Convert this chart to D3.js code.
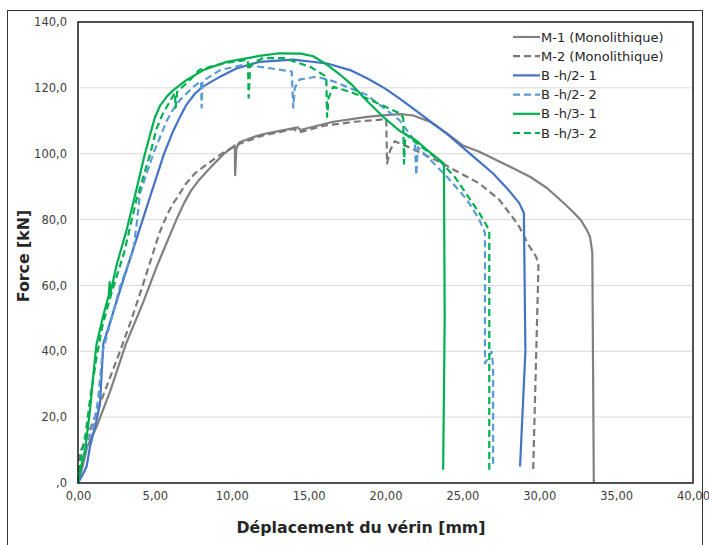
<!DOCTYPE html>
<html><head><meta charset="utf-8">
<script src="https://cdn.jsdelivr.net/npm/d3@7"></script>
<style>
html,body{margin:0;padding:0;background:#fff;}
svg{display:block;}
</style></head>
<body>
<svg id="chart" width="709" height="545"></svg>
<script>
// ---------- data (x = Déplacement [mm], y = Force [kN]) ----------
const seriesNames = ["M-1 (Monolithique)","M-2 (Monolithique)","B -h/2- 1","B -h/2- 2","B -h/3- 1","B -h/3- 2"];
const xTicks = [0,5,10,15,20,25,30,35,40];
const yTicks = [0,20,40,60,80,100,120,140];

const m1 = [[0,0],[0.3,5],[0.6,11],[1.2,17],[2.1,28],[3.1,42],[4.25,55],[5.1,65.5],[6.4,80],[6.9,85],[7.35,88.8],[7.9,92.2],[8.65,96],[9.5,100],[10.2,102.5],[10.22,93.5],[10.3,101.5],[10.5,103.5],[11.7,105.5],[12.3,106.2],[14.3,108],[14.45,107.2],[16.6,109.7],[18.8,111.2],[20.0,111.7],[21.0,112],[21.8,111.6],[22.9,109.7],[24,106.2],[25,102.6],[26.1,100.6],[27.2,98.1],[28.3,95.6],[29.4,93],[30.5,89.6],[31.5,85.4],[32.2,82.3],[32.7,79.9],[33.1,76.8],[33.3,74.8],[33.45,70],[33.55,0]];
const m2 = [[0,0],[0.1,9],[0.5,13],[1.1,20],[2.08,32],[2.73,40],[3.4,48.6],[4.25,60.6],[5.3,76],[5.8,81.5],[6.2,85],[6.5,87],[7.0,90.8],[7.6,94],[8.5,97.2],[9.5,100.5],[10.5,103],[12,105.5],[14,107.5],[14.4,106.5],[16,108.5],[18,109.7],[19.5,110.3],[20.05,110.5],[20.1,97],[20.3,101],[20.6,103.8],[21.5,102],[23.3,98],[24.5,95],[26.1,91],[27.4,86],[28.3,80.5],[28.7,77.8],[29.3,72.3],[29.8,68.7],[29.95,66],[29.6,3]];
const bh21 = [[0,0],[0.3,2.5],[0.56,5],[0.78,11],[1.2,19],[1.43,24],[1.65,42.4],[2.0,47.5],[2.9,61],[3.9,75.5],[4.9,90],[5.6,100],[6.2,107],[6.7,111.8],[7.07,115],[7.6,118.2],[8.1,120.3],[9.24,123.4],[10.3,125.9],[11.8,127.9],[14,128.6],[16.2,127.4],[17.7,125.4],[18.8,122.9],[19.9,120],[20.9,116.8],[22,113],[23,109.5],[24,106],[25,102],[26,98],[27,94],[28,89],[28.7,85],[29.0,82],[29.1,40],[28.75,5]];
const bh22 = [[0,0],[0.2,5],[0.67,13],[1.0,17],[1.3,25],[1.6,40],[2.3,52],[2.73,59.6],[3.6,70.8],[3.85,80],[4.03,88],[4.9,100],[5.77,110],[6.2,113.5],[6.63,116.3],[7.5,120.3],[8.0,122],[8.04,114],[8.1,122],[9.24,125.4],[10.75,127],[11.8,126.4],[13.9,125],[14.0,114],[14.1,120],[14.4,122.5],[15.5,123.4],[16.6,122],[18.8,117.8],[20.9,110.2],[21.9,104],[22.0,93.5],[22.1,102],[24,93],[25.3,86],[26.1,80],[26.47,76],[26.47,36.3],[26.9,39.9],[27.0,35.3],[27.0,5]];
const bh31 = [[0,0],[0.2,5],[0.46,10],[0.78,22],[1.0,33],[1.2,42],[1.65,51],[2.0,57],[2.06,61],[2.1,57.5],[2.5,66],[3.17,77],[3.9,91],[4.3,99],[4.7,106],[5.0,111],[5.33,114.5],[5.8,117.5],[6.2,119.3],[7.07,122.4],[8.15,125.4],[9.67,127.9],[11.8,129.7],[13.1,130.5],[14.5,130.4],[15.3,129.6],[16.2,127],[17.0,124.2],[17.8,121],[18.8,116],[19.9,111],[20.9,107],[22,104],[23,100],[23.8,97],[23.85,50],[23.75,4]];
const bh32 = [[0,0],[0.2,8],[0.5,15],[0.8,26],[1.2,38],[1.6,48],[2.2,58],[3.0,70],[3.8,86],[4.7,100],[5.1,107.5],[5.5,112],[6.3,118.5],[6.35,114],[6.45,118.8],[7.2,122],[7.9,125.5],[9.5,127.5],[11.05,128.5],[11.1,117],[11.2,127],[12,129],[13.4,129],[15.1,126.4],[16.15,123.4],[16.2,111.2],[16.3,117],[16.6,120.3],[17.7,118.8],[18.8,116.8],[20.9,112.3],[21.15,111],[21.2,97],[21.3,106],[21.8,104],[23.5,98],[24.5,93],[26.1,82],[26.6,78],[26.75,76],[26.75,4]];
const seriesData = [m1, m2, bh21, bh22, bh31, bh32];
const seriesColors = ["#808080","#7a7a7a","#4472C4","#5B9BD5","#00B050","#00B050"];
const seriesDash = [null,"7,4",null,"7,4",null,"7,4"];

// ---------- layout ----------
const svg = d3.select("#chart");
const L = 78, R = 693, T = 22, B = 483;
const x = d3.scaleLinear().domain([0,40]).range([L,R]);
const y = d3.scaleLinear().domain([0,140]).range([B,T]);

// outer frame
svg.append("rect").attr("x",7.5).attr("y",10.5).attr("width",695).attr("height",540)
  .attr("fill","none").attr("stroke","#333").attr("stroke-width",1);

// gridlines
svg.append("g").selectAll("line").data(yTicks.filter(d=>d>0 && d<140)).join("line")
  .attr("x1",L).attr("x2",R).attr("y1",d=>y(d)).attr("y2",d=>y(d))
  .attr("stroke","#D9D9D9").attr("stroke-width",1);

// axes
const fmtY = d => d===0 ? ",0" : d.toFixed(1).replace(".",",");
const fmtX = d => d.toFixed(2).replace(".",",");
const gx = svg.append("g").attr("transform",`translate(0,${B})`)
  .call(d3.axisBottom(x).tickValues(xTicks).tickFormat(fmtX).tickSize(0).tickPadding(9));
const gy = svg.append("g").attr("transform",`translate(${L},0)`)
  .call(d3.axisLeft(y).tickValues(yTicks).tickFormat(fmtY).tickSize(0).tickPadding(11));
[gx,gy].forEach(g=>{
  g.select(".domain").remove();
  g.selectAll("text").attr("font-family","DejaVu Sans, Verdana, sans-serif").attr("font-size",11.5).attr("fill","#404040");
});

// series
const line = d3.line().x(d=>x(d[0])).y(d=>y(d[1]));
const gS = svg.append("g");
seriesData.forEach((s,i)=>{
  gS.append("path").attr("d",line(s)).attr("fill","none")
    .attr("stroke",seriesColors[i]).attr("stroke-width",2.2)
    .attr("stroke-dasharray",seriesDash[i]).attr("stroke-linejoin","round");
});

// plot border
svg.append("rect").attr("x",L).attr("y",T).attr("width",R-L).attr("height",B-T)
  .attr("fill","none").attr("stroke","#262626").attr("stroke-width",1.6);

// legend
const lg = svg.append("g");
seriesNames.forEach((n,i)=>{
  const yy = 37 + i*19.2;
  lg.append("line").attr("x1",513).attr("x2",540).attr("y1",yy).attr("y2",yy)
    .attr("stroke",seriesColors[i]).attr("stroke-width",2.2).attr("stroke-dasharray",seriesDash[i]);
  lg.append("text").attr("x",541).attr("y",yy).attr("dy","0.35em")
    .attr("font-family","DejaVu Sans, Verdana, sans-serif").attr("font-size",13).attr("fill","#262626").text(n);
});

// axis titles
svg.append("text").attr("x",361).attr("y",527).attr("dy","0.35em").attr("text-anchor","middle")
  .attr("font-family","DejaVu Sans, Verdana, sans-serif").attr("font-weight","bold").attr("font-size",15.8).attr("fill","#262626")
  .text("Déplacement du vérin [mm]");
svg.append("text").attr("transform","translate(23,256) rotate(-90)").attr("dy","0.35em").attr("text-anchor","middle")
  .attr("font-family","DejaVu Sans, Verdana, sans-serif").attr("font-weight","bold").attr("font-size",15.8).attr("fill","#262626")
  .text("Force [kN]");
</script>
</body></html>
